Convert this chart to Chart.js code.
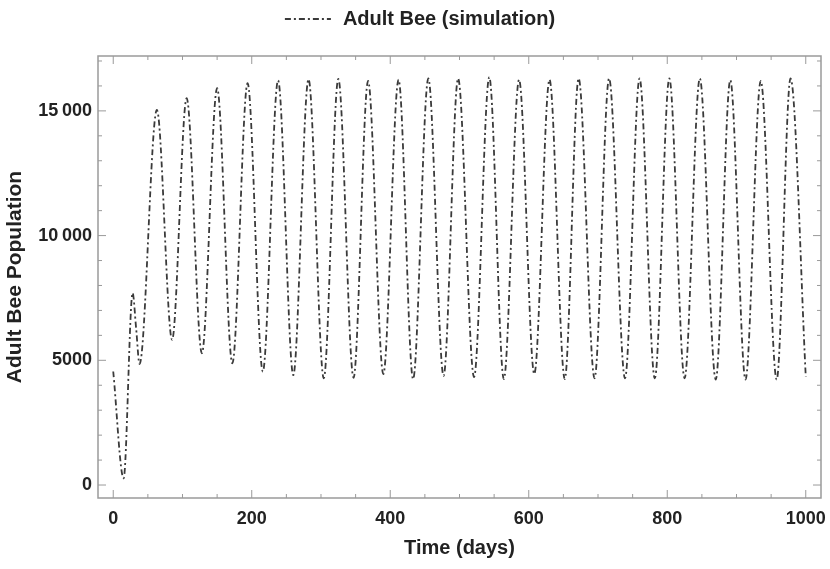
<!DOCTYPE html>
<html>
<head>
<meta charset="utf-8">
<script src="https://cdn.jsdelivr.net/npm/chart.js@4/dist/chart.umd.min.js"></script>
<style>
  body { margin: 0; background: #fff; }
  #wrap { width: 830px; height: 569px; }
</style>
</head>
<body>
<div id="wrap"><canvas id="beeChart"></canvas></div>
<script>
// ADULT BEE SIMULATION - values
const days = [
  0, 15, 28, 33, 38, 63, 85, 106, 128, 150, 172, 194, 216, 238, 260,
  282, 304, 325, 347, 368, 390, 412, 433, 455, 477, 498, 521, 543, 564,
  586, 608, 630, 652, 672, 695, 716, 739, 760, 782, 803, 825, 847, 870,
  891, 913, 935, 958, 978, 1000
];
const adultBees = [
  4550, 270, 7700, 6300, 4850, 15040, 5820, 15510, 5280, 15910, 4880, 16110, 4550, 16220, 4410,
  16270, 4280, 16280, 4300, 16200, 4450, 16250, 4250, 16300, 4380, 16300, 4330, 16350, 4250,
  16250, 4450, 16250, 4250, 16300, 4280, 16300, 4280, 16300, 4280, 16300, 4280, 16300, 4230,
  16230, 4230, 16200, 4230, 16300, 4350
];
const xTicks = [0, 200, 400, 600, 800, 1000];
const yTicks = [0, 5000, 10000, 15000];
const xMinor = 50, yMinor = 1000;

const points = days.map((d, i) => ({ x: d, y: adultBees[i] }));

const textColor = '#222';
const frameColor = '#9a9a9a';
const fontFamily = '"Liberation Sans", Arial, sans-serif';

function fmt(v) {
  const s = String(v);
  return s.length > 4 ? s.slice(0, -3) + '\u2009' + s.slice(-3) : s;
}

// frame with inward ticks on all four sides
const framePlugin = {
  id: 'frame',
  beforeDatasetsDraw(chart) {
    const { ctx, chartArea: a, scales: { x, y } } = chart;
    ctx.save();
    ctx.strokeStyle = frameColor;
    ctx.lineWidth = 1.5;
    ctx.strokeRect(a.left, a.top, a.right - a.left, a.bottom - a.top);
    ctx.lineWidth = 1;
    ctx.beginPath();
    for (let v = Math.ceil(x.min / xMinor) * xMinor; v <= x.max; v += xMinor) {
      const px = x.getPixelForValue(v);
      const len = xTicks.includes(v) ? 8 : 4;
      ctx.moveTo(px, a.bottom); ctx.lineTo(px, a.bottom - len);
      ctx.moveTo(px, a.top); ctx.lineTo(px, a.top + len);
    }
    for (let v = Math.ceil(y.min / yMinor) * yMinor; v <= y.max; v += yMinor) {
      const py = y.getPixelForValue(v);
      const len = yTicks.includes(v) ? 8 : 4;
      ctx.moveTo(a.left, py); ctx.lineTo(a.left + len, py);
      ctx.moveTo(a.right, py); ctx.lineTo(a.right - len, py);
    }
    ctx.stroke();
    ctx.restore();
  }
};

// legend at top
const legendPlugin = {
  id: 'topLegend',
  afterDraw(chart) {
    const { ctx } = chart;
    const ds = chart.data.datasets[0];
    ctx.save();
    ctx.font = 'bold 20px ' + fontFamily;
    const tw = ctx.measureText(ds.label).width;
    const lineW = 46, gap = 12;
    const x0 = chart.width / 2 + 5 - (lineW + gap + tw) / 2;
    const yc = 19;
    ctx.strokeStyle = ds.borderColor;
    ctx.lineWidth = ds.borderWidth;
    ctx.setLineDash(ds.borderDash);
    ctx.beginPath();
    ctx.moveTo(x0, yc); ctx.lineTo(x0 + lineW, yc);
    ctx.stroke();
    ctx.setLineDash([]);
    ctx.fillStyle = textColor;
    ctx.textBaseline = 'middle';
    ctx.fillText(ds.label, x0 + lineW + gap, yc);
    ctx.restore();
  }
};

const beeData = {
  datasets: [{
    label: 'Adult Bee (simulation)',
    data: points,
    borderColor: '#3a3a3a',
    borderWidth: 1.8,
    borderDash: [6, 3, 2, 3],
    pointRadius: 0,
    fill: false,
    cubicInterpolationMode: 'monotone'
  }]
};

const beeConfig = {
  type: 'line',
  data: beeData,
  options: {
    responsive: true,
    maintainAspectRatio: false,
    animation: false,
    layout: { padding: { top: 56, right: 9, left: 0, bottom: 0 } },
    plugins: {
      legend: { display: false },
      tooltip: { enabled: false }
    },
    scales: {
      x: {
        type: 'linear',
        min: -22,
        max: 1022,
        grid: { display: false, drawTicks: false },
        border: { display: false },
        afterFit: s => { s.height = 71; s.paddingLeft = 0; s.paddingRight = 0; },
        afterBuildTicks: s => { s.ticks = xTicks.map(v => ({ value: v })); },
        ticks: {
          autoSkip: false,
          maxRotation: 0,
          padding: 10,
          color: textColor,
          font: { family: fontFamily, size: 18, weight: 'bold' },
          callback: v => String(v)
        },
        title: {
          display: true,
          text: 'Time (days)',
          color: textColor,
          padding: { top: 0, bottom: 9 },
          font: { family: fontFamily, size: 20, weight: 'bold' }
        }
      },
      y: {
        min: -520,
        max: 17200,
        grid: { display: false, drawTicks: false },
        border: { display: false },
        afterFit: s => { s.width = 98; s.paddingTop = 0; s.paddingBottom = 0; },
        afterBuildTicks: s => { s.ticks = yTicks.map(v => ({ value: v })); },
        ticks: {
          autoSkip: false,
          padding: 6,
          color: textColor,
          font: { family: fontFamily, size: 18, weight: 'bold' },
          callback: v => fmt(v)
        },
        title: {
          display: true,
          text: 'Adult Bee Population',
          color: textColor,
          padding: { top: 3, bottom: 0 },
          font: { family: fontFamily, size: 21, weight: 'bold' }
        }
      }
    }
  },
  plugins: [framePlugin, legendPlugin]
};

const beeChart = new Chart(document.getElementById('beeChart'), beeConfig);
</script>
</body>
</html>
